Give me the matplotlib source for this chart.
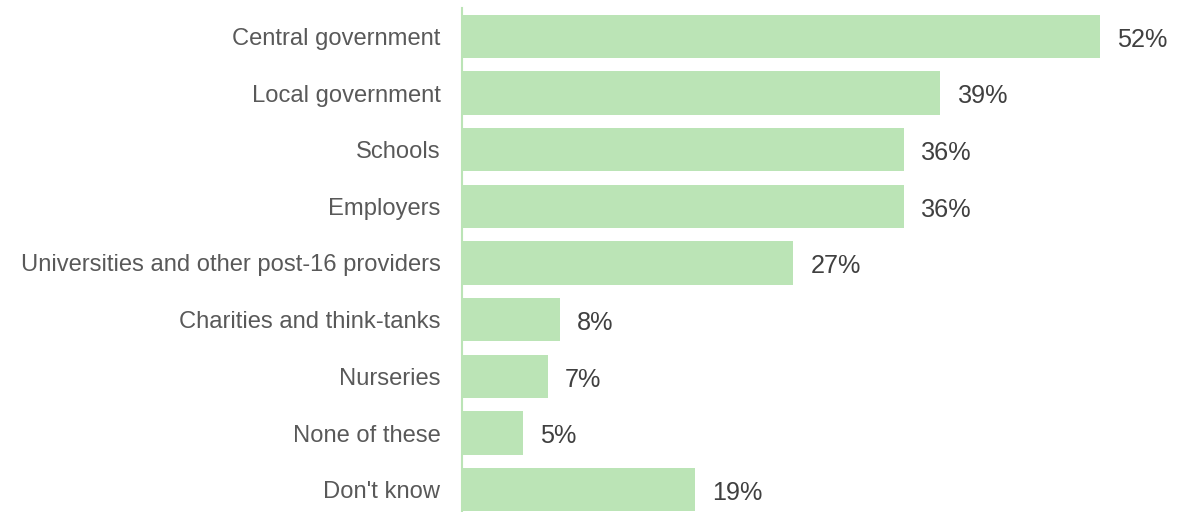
import matplotlib.pyplot as plt

plt.rcParams['font.family'] = ['Liberation Sans', 'DejaVu Sans']

categories = ['Central government', 'Local government', 'Schools', 'Employers',
              'Universities and other post-16 providers', 'Charities and think-tanks',
              'Nurseries', 'None of these', "Don't know"]
values = [52, 39, 36, 36, 27, 8, 7, 5, 19]

bar_color = '#bbe4b6'

fig = plt.figure(figsize=(11.93, 5.12), dpi=100)
# axes placed so the bars line up with the reference pixels
ax = fig.add_axes([462 / 1193, -6 / 512, 731 / 1193, 510 / 512])

ypos = list(range(len(categories)))
ax.barh(ypos, values, height=0.76, color=bar_color)
for y, v in zip(ypos, values):
    ax.text(v + 1.4, y + 0.18, f'{v}%', va='baseline', ha='left', fontsize=18.2, color='#404040')

ax.set_yticks(ypos)
ax.set_yticklabels(categories, fontsize=17.1, color='#595959')
ax.tick_params(axis='y', length=0, pad=15.5)
ax.set_xticks([])
ax.set_xlim(0, 59.6)
ax.set_ylim(len(categories) - 0.5, -0.5)

for side in ['top', 'right', 'bottom']:
    ax.spines[side].set_visible(False)
ax.spines['left'].set_color(bar_color)
ax.spines['left'].set_linewidth(1.5)

fig.savefig('out.png', dpi=100)
